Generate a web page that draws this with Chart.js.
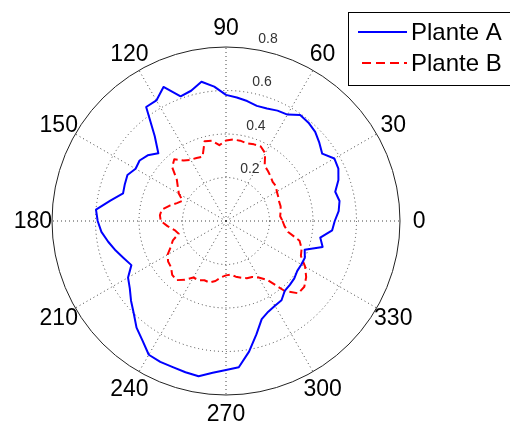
<!DOCTYPE html>
<html>
<head>
<meta charset="utf-8">
<script src="https://cdn.jsdelivr.net/npm/chart.js@4.4.0/dist/chart.umd.min.js"></script>
<style>
html,body{margin:0;padding:0;background:#fff;}
#wrap{position:relative;width:510px;height:421px;}
</style>
</head>
<body>
<div id="wrap"><canvas id="c" width="510" height="421"></canvas></div>
<script>
// angles in degrees (math convention: 0 at right, counter-clockwise)
const angles = [0,5,10,15,20,25,30,35,40,45,50,55,60,65,70,75,80,85,90,95,100,105,110,115,120,125,130,135,140,145,150,155,160,165,170,175,180,185,190,195,200,205,210,215,220,225,230,235,240,245,250,255,260,265,270,275,280,285,290,295,300,305,310,315,320,325,330,335,340,345,350,355];
const plantA = [0.50,0.52,0.53,0.52,0.55,0.57,0.575,0.54,0.56,0.58,0.59,0.595,0.565,0.56,0.55,0.548,0.56,0.57,0.58,0.62,0.65,0.62,0.61,0.68,0.64,0.64,0.51,0.44,0.47,0.485,0.48,0.50,0.495,0.49,0.54,0.60,0.59,0.575,0.55,0.525,0.50,0.48,0.52,0.54,0.57,0.60,0.64,0.67,0.71,0.715,0.715,0.72,0.725,0.70,0.685,0.675,0.61,0.54,0.48,0.46,0.45,0.445,0.42,0.415,0.41,0.40,0.40,0.40,0.385,0.46,0.44,0.49];
const plantB = [0.26,0.25,0.255,0.26,0.26,0.265,0.27,0.28,0.28,0.29,0.30,0.31,0.36,0.378,0.375,0.37,0.375,0.376,0.37,0.35,0.375,0.38,0.315,0.32,0.325,0.34,0.37,0.35,0.295,0.27,0.25,0.22,0.24,0.27,0.30,0.305,0.30,0.27,0.24,0.225,0.26,0.28,0.31,0.325,0.33,0.35,0.355,0.33,0.30,0.30,0.29,0.293,0.28,0.26,0.25,0.247,0.26,0.27,0.28,0.284,0.30,0.33,0.42,0.47,0.47,0.45,0.42,0.38,0.37,0.35,0.29,0.27];
const angleTicks = [0,30,60,90,120,150,180,210,240,270,300,330];
const ringTicks = [0.2,0.4,0.6,0.8];
const seriesNames = ['Plante A','Plante B'];
const rMax = 0.8;

// Chart.js radar goes clockwise; with startAngle 90 index 0 is at the right.
const step = 5;
const order = angles.map((a, k) => ((360 - k * step) % 360) / step);
const labels = order.map(i => angles[i]);
const dataA = order.map(i => plantA[i]);
const dataB = order.map(i => plantB[i]);

const FONT = '"Liberation Sans", Arial, sans-serif';

const overlay = {
  id: 'overlay',
  afterDraw(chart) {
    const s = chart.scales.r;
    const ctx = chart.ctx;
    ctx.save();
    // angle labels
    ctx.fillStyle = '#000';
    ctx.font = '23px ' + FONT;
    ctx.textAlign = 'center';
    ctx.textBaseline = 'middle';
    angleTicks.forEach(a => {
      const k = ((360 - a) % 360) / step;
      const p = s.getPointPosition(k, s.drawingArea * 1.11);
      ctx.fillText(String(a), p.x, p.y + 1);
    });
    // ring labels (MATLAB style at 82 degrees)
    ctx.font = '14px ' + FONT;
    ctx.fillStyle = '#333';
    ctx.textAlign = 'left';
    ctx.textBaseline = 'bottom';
    const a82 = 82 * Math.PI / 180;
    ringTicks.forEach(v => {
      const d = s.getDistanceFromCenterForValue(v + 0.01);
      ctx.fillText('  ' + v, s.xCenter + d * Math.cos(a82), s.yCenter - d * Math.sin(a82));
    });
    // legend
    ctx.fillStyle = '#fff';
    ctx.fillRect(348.5, 12.5, 170, 73);
    ctx.strokeStyle = '#000';
    ctx.lineWidth = 1;
    ctx.strokeRect(348.5, 12.5, 170, 73);
    ctx.lineWidth = 2;
    ctx.strokeStyle = '#0000ff';
    ctx.setLineDash([]);
    ctx.beginPath(); ctx.moveTo(358, 32); ctx.lineTo(407, 32); ctx.stroke();
    ctx.strokeStyle = '#ff0000';
    ctx.setLineDash([9, 5]);
    ctx.beginPath(); ctx.moveTo(362, 63); ctx.lineTo(407, 63); ctx.stroke();
    ctx.setLineDash([]);
    ctx.fillStyle = '#000';
    ctx.font = '24px ' + FONT;
    ctx.textAlign = 'left';
    ctx.textBaseline = 'alphabetic';
    ctx.fillText(seriesNames[0], 411, 40);
    ctx.fillText(seriesNames[1], 411, 71);
    ctx.restore();
  }
};

new Chart(document.getElementById('c'), {
  type: 'radar',
  data: {
    labels: labels,
    datasets: [
      { label: seriesNames[0], data: dataA, borderColor: '#0000ff', borderWidth: 2, pointRadius: 0, fill: false, tension: 0 },
      { label: seriesNames[1], data: dataB, borderColor: '#ff0000', borderWidth: 2, borderDash: [8, 4], pointRadius: 0, fill: false, tension: 0 }
    ]
  },
  options: {
    responsive: false,
    animation: false,
    layout: { padding: { left: 52, top: 47, right: 110, bottom: 26 } },
    plugins: { legend: { display: false }, tooltip: { enabled: false } },
    elements: { line: { borderJoinStyle: 'round' } },
    scales: {
      r: {
        min: 0,
        max: rMax,
        startAngle: 90,
        ticks: { display: false, stepSize: 0.2 },
        pointLabels: { display: false },
        grid: {
          circular: true,
          color: (c) => (c.tick && Math.abs(c.tick.value - rMax) < 1e-9) ? '#222' : '#444',
          lineWidth: 1
        },
        border: {
          dash: (c) => (c.tick && Math.abs(c.tick.value - rMax) < 1e-9) ? [] : [1, 3]
        },
        angleLines: {
          color: '#444',
          lineWidth: (c) => (c.index % 6 === 0) ? 1 : 0,
          borderDash: [1, 3]
        }
      }
    }
  },
  plugins: [overlay]
});
</script>
</body>
</html>
